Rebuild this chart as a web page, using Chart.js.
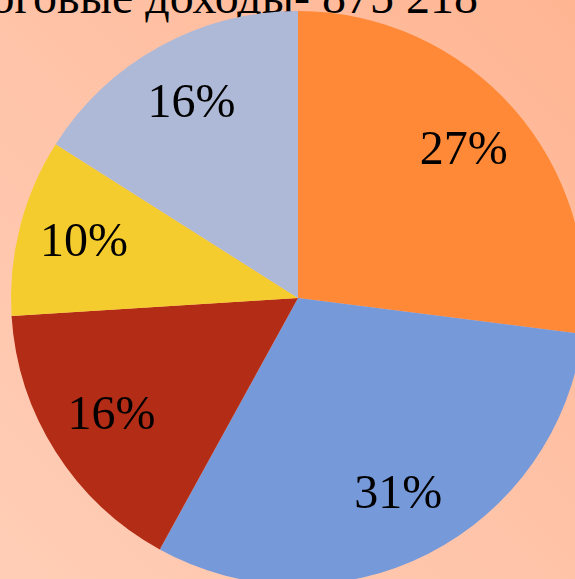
<!DOCTYPE html>
<html>
<head>
<meta charset="utf-8">
<script src="https://cdn.jsdelivr.net/npm/chart.js@4"></script>
<style>
    html, body { margin: 0; padding: 0; }
    body {
        width: 575px;
        height: 579px;
        overflow: hidden;
        position: relative;
        background: linear-gradient(225deg, #ffb592 0%, #ffc3a8 50%, #ffcdb6 100%);
    }
    #title {
        position: absolute;
        right: 97px;
        top: -27px;
        font-family: 'Liberation Serif', serif;
        font-size: 48px;
        line-height: 48px;
        white-space: nowrap;
        color: #000;
    }
    #wrap { position: absolute; left: 0; top: 0; width: 596px; height: 596px; }
</style>
</head>
<body>
<div id="title">Налоговые доходы- 875 218</div>
<div id="wrap"><canvas id="pieChart" width="596" height="596"></canvas></div>
<script>
const categories = ['Доля 1', 'Доля 2', 'Доля 3', 'Доля 4', 'Доля 5'];
const shares = [27, 31, 16, 10, 16];
const sliceColors = ['#ff8936', '#7699d9', '#b32c16', '#f5cc2e', '#adb9d7'];

// percentage labels inside the slices
const sliceLabels = {
    id: 'sliceLabels',
    afterDatasetsDraw(chart) {
        const ctx = chart.ctx;
        const meta = chart.getDatasetMeta(0);
        ctx.save();
        ctx.font = '48px "Liberation Serif", serif';
        ctx.fillStyle = '#000';
        ctx.textAlign = 'center';
        ctx.textBaseline = 'middle';
        meta.data.forEach((arc, i) => {
            const p = arc.getProps(['x', 'y', 'startAngle', 'endAngle', 'outerRadius'], true);
            const mid = (p.startAngle + p.endAngle) / 2;
            const r = p.outerRadius * 0.77;
            ctx.fillText(shares[i] + '%', p.x + Math.cos(mid) * r, p.y + Math.sin(mid) * r);
        });
        ctx.restore();
    },
};

new Chart(document.getElementById('pieChart'), {
    type: 'pie',
    data: {
        labels: categories,
        datasets: [
            {
                data: shares,
                backgroundColor: sliceColors,
                borderWidth: 0,
            },
        ],
    },
    options: {
        responsive: false,
        animation: false,
        layout: {
            padding: 11,
        },
        plugins: {
            legend: { display: false },
            tooltip: { enabled: false },
        },
    },
    plugins: [sliceLabels],
});
</script>
</body>
</html>
